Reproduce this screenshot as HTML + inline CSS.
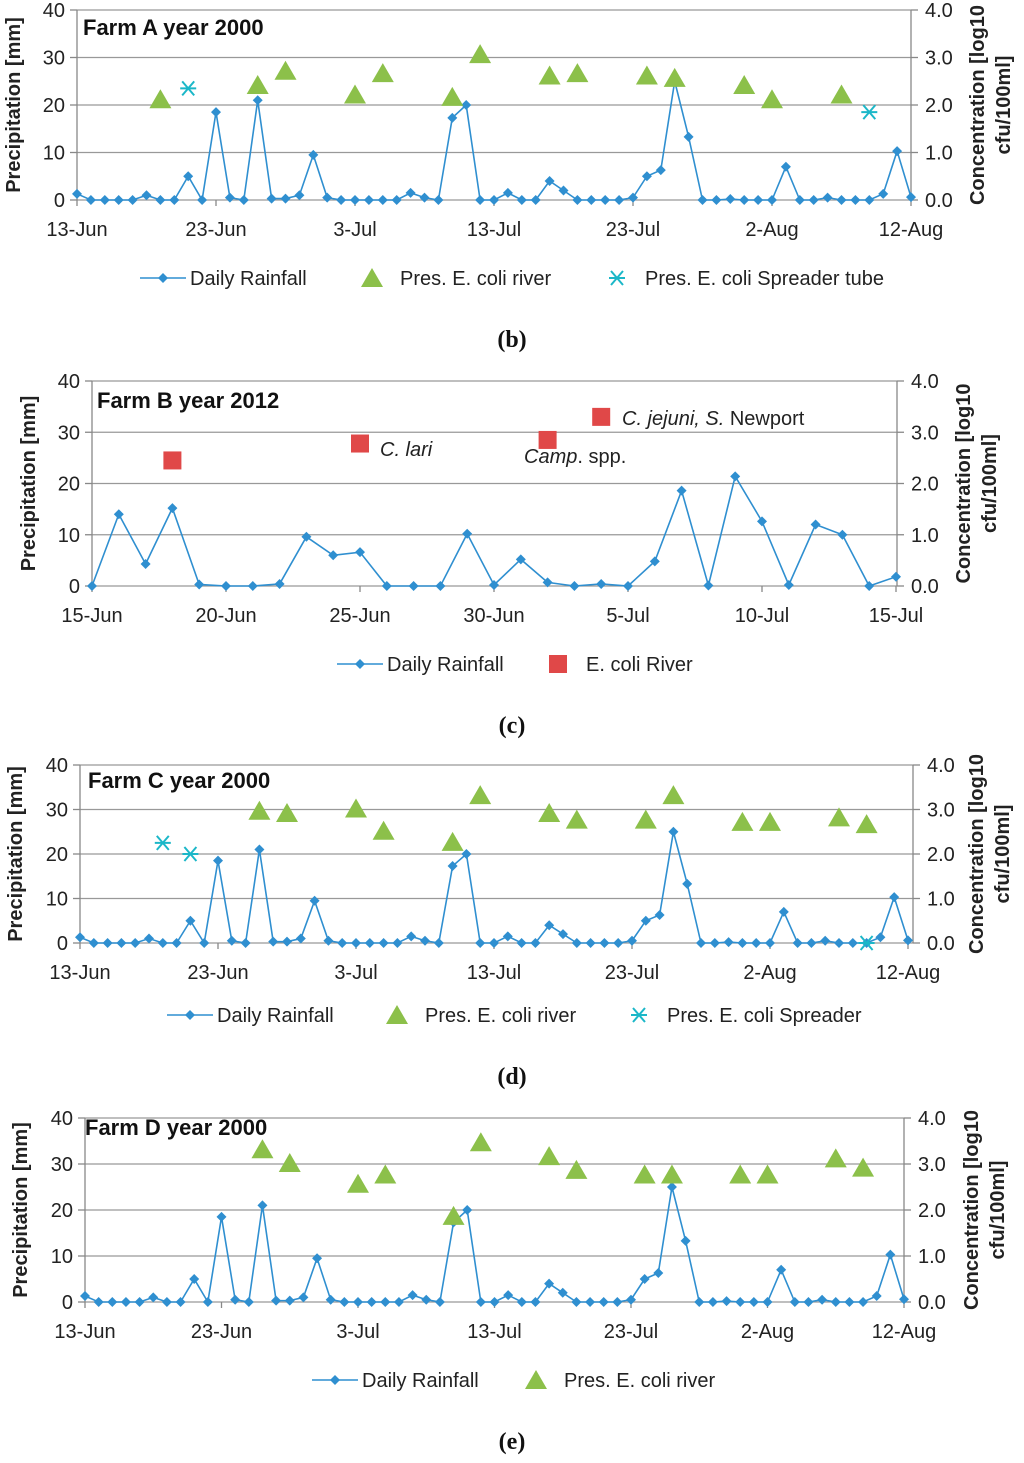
<!DOCTYPE html>
<html><head><meta charset="utf-8"><style>
body{margin:0;background:#fff;}
svg{display:block;font-family:"Liberation Sans","DejaVu Sans",sans-serif;}
</style></head><body>
<svg id="s" width="1024" height="1463" viewBox="0 0 1024 1463" xmlns="http://www.w3.org/2000/svg"></svg>
<script>
// ---- data ----
const rain2000 = [1.3,0,0,0,0,1.0,0,0,5,0,18.5,0.5,0,21,0.3,0.3,1.0,9.5,0.5,0,0,0,0,0,1.5,0.5,0,17.3,20,0,0,1.5,0,0,4,2,0,0,0,0,0.5,5,6.3,25,13.3,0,0,0.2,0,0,0,7,0,0,0.5,0,0,0,1.3,10.3,0.6];
const rain2012 = [0,14,4.3,15.2,0.3,0,0,0.4,9.6,6,6.6,0,0,0,10.2,0.2,5.2,0.7,0,0.4,0,4.8,18.6,0.1,21.4,12.6,0.2,12,10,0,1.8];
const datesA = ["13-Jun","23-Jun","3-Jul","13-Jul","23-Jul","2-Aug","12-Aug"];
const datesB = ["15-Jun","20-Jun","25-Jun","30-Jun","5-Jul","10-Jul","15-Jul"];
const leftTicks = [0,10,20,30,40];
const rightTicks = ["0.0","1.0","2.0","3.0","4.0"];
const riverA_days = [6,13,15,20,22,27,29,34,36,41,43,48,50,55];
const riverA_vals = [2.1,2.4,2.7,2.2,2.65,2.15,3.05,2.6,2.65,2.6,2.55,2.4,2.1,2.2];
const spreadA_days = [8,57];
const spreadA_vals = [2.35,1.85];
const riverB_days = [3,10,17,19];
const riverB_vals = [2.45,2.78,2.85,3.3];
const riverC_days = [13,15,20,22,27,29,34,36,41,43,48,50,55,57];
const riverC_vals = [2.95,2.9,3.0,2.5,2.25,3.3,2.9,2.75,2.75,3.3,2.7,2.7,2.8,2.65];
const spreadC_days = [6,8,57];
const spreadC_vals = [2.25,2.0,0.0];
const riverD_days = [13,15,20,22,27,29,34,36,41,43,48,50,55,57];
const riverD_vals = [3.3,3.0,2.55,2.75,1.85,3.45,3.15,2.85,2.75,2.75,2.75,2.75,3.1,2.9];

const NS="http://www.w3.org/2000/svg";
const svg=document.getElementById('s');
function mk(tag,attrs,parent,name){const e=document.createElementNS(NS,tag);for(const k in attrs)e.setAttribute(k,attrs[k]);(parent||svg).appendChild(e);


return e;}
function txt(x,y,s,attrs,parent,name){const t=mk('text',Object.assign({x:x,y:y,'font-size':19,fill:'#222'},attrs||{}),parent,name);t.textContent=s;return t;}
const LC='#2f8fd0', TC='#8cc04a', SC='#1bb7c8', RC='#e04848';
function tri(g,x,y,nm){mk('polygon',{points:`${x},${y-11} ${x-11},${y+8} ${x+11},${y+8}`,fill:TC},g,nm);}
function star(g,x,y,nm){const h=mk('g',{stroke:SC,'stroke-width':2},g,nm);
 mk('line',{x1:x-8,y1:y,x2:x+8,y2:y},h,'star-stroke');mk('line',{x1:x-6,y1:y-7,x2:x+6,y2:y+7},h,'star-stroke');mk('line',{x1:x-6,y1:y+7,x2:x+6,y2:y-7},h,'star-stroke');}
function sq(g,x,y,nm){mk('rect',{x:x-9,y:y-9,width:18,height:18,fill:RC},g,nm);}
function dia(g,x,y,nm){mk('polygon',{points:`${x},${y-5} ${x+5},${y} ${x},${y+5} ${x-5},${y}`,fill:LC},g,nm);}

function panel(c){
 const g=mk('g',{},svg,c.name);
 const X=d=>c.x0+d*c.dx, Y=v=>c.y0-(v/40)*(c.y0-c.yt), Y2=v=>Y(v*10);
 leftTicks.forEach((t,i)=>{
  mk('line',{x1:c.x0,x2:c.xr,y1:Y(t),y2:Y(t),stroke:'#999','stroke-width':1.3},g,'gridline');
  mk('line',{x1:c.x0-7,x2:c.x0,y1:Y(t),y2:Y(t),stroke:'#888','stroke-width':1.3},g,'left-tick');
  mk('line',{x1:c.xr,x2:c.xr+7,y1:Y(t),y2:Y(t),stroke:'#888','stroke-width':1.3},g,'right-tick');
  txt(c.x0-12,Y(t)+7,String(t),{'text-anchor':'end','font-size':20},g,'left-tick-label');
  txt(c.xr+14,Y(t)+7,rightTicks[i],{'font-size':20},g,'right-tick-label');
 });
 mk('line',{x1:c.x0,x2:c.x0,y1:c.yt,y2:c.y0,stroke:'#888','stroke-width':1.3},g,'left-axis');
 mk('line',{x1:c.xr,x2:c.xr,y1:c.yt,y2:c.y0,stroke:'#888','stroke-width':1.3},g,'right-axis');
 c.dates.forEach((d,i)=>{const x=X(i*c.step);
  mk('line',{x1:x,x2:x,y1:c.y0,y2:c.y0+6,stroke:'#888','stroke-width':1.3},g,'x-tick');
  txt(x,c.y0+36,d,{'text-anchor':'middle','font-size':20},g,'x-tick-label');});
 const my=(c.y0+c.yt)/2;
 txt(0,0,'Precipitation [mm]',{'text-anchor':'middle','font-weight':'bold','font-size':20,transform:`translate(${c.lx},${my}) rotate(-90)`},g,'y-axis-title');
 txt(0,0,'Concentration [log10',{'text-anchor':'middle','font-weight':'bold','font-size':20,transform:`translate(${c.rx},${my}) rotate(-90)`},g,'y2-axis-title');
 txt(0,0,'cfu/100ml]',{'text-anchor':'middle','font-weight':'bold','font-size':20,transform:`translate(${c.rx+26},${my}) rotate(-90)`},g,'y2-axis-title-line2');
 txt(c.tx,c.ty,c.title,{'font-weight':'bold','font-size':22,fill:'#111'},g,'panel-title');
 const pts=c.rain.map((v,i)=>`${X(i)},${Y(v)}`).join(' ');
 mk('polyline',{points:pts,fill:'none',stroke:LC,'stroke-width':1.6},g,'rainfall-line');
 c.rain.forEach((v,i)=>dia(g,X(i),Y(v),'rainfall-point'));
 (c.tri||[]).forEach(([ds,vs])=>ds.forEach((d,i)=>tri(g,X(d),Y2(vs[i]),'river-marker')));
 (c.star||[]).forEach(([ds,vs])=>ds.forEach((d,i)=>star(g,X(d),Y2(vs[i]),'spreader-marker')));
 (c.sq||[]).forEach(([ds,vs])=>ds.forEach((d,i)=>sq(g,X(d),Y2(vs[i]),'river-square')));
 const ly=c.ly, L=mk('g',{},g,'legend');
 c.leg.forEach(it=>{
  if(it.t==='line'){mk('line',{x1:it.x,x2:it.x+46,y1:ly,y2:ly,stroke:LC,'stroke-width':1.6},L,'legend-line');dia(L,it.x+23,ly,'legend-diamond');txt(it.x+50,ly+7,it.s,{'font-size':20},L,'legend-entry');}
  else{ if(it.t==='tri')tri(L,it.x,ly+1,'legend-triangle'); else if(it.t==='star')star(L,it.x,ly,'legend-star'); else sq(L,it.x,ly,'legend-square');
   txt(it.x+28,ly+7,it.s,{'font-size':20},L,'legend-entry');}
 });
 txt(512,c.cy,c.cap,{'text-anchor':'middle','font-family':'"Liberation Serif",serif','font-weight':'bold','font-size':24,fill:'#111'},g,'panel-caption');
 return {g,X,Y2};
}
panel({name:'panel-farm-a',x0:77,dx:13.9,xr:911,y0:200,yt:10,rain:rain2000,dates:datesA,step:10,lx:20,rx:984,tx:83,ty:35,title:'Farm A year 2000',
 tri:[[riverA_days,riverA_vals]],star:[[spreadA_days,spreadA_vals]],ly:278,cy:347,cap:'(b)',
 leg:[{t:'line',x:140,s:'Daily Rainfall'},{t:'tri',x:372,s:'Pres. E. coli river'},{t:'star',x:617,s:'Pres. E. coli Spreader tube'}]});
const pb=panel({name:'panel-farm-b',x0:92,dx:26.8,xr:897,y0:586,yt:381,rain:rain2012,dates:datesB,step:5,lx:35,rx:970,tx:97,ty:408,title:'Farm B year 2012',
 sq:[[riverB_days,riverB_vals]],ly:664,cy:733,cap:'(c)',
 leg:[{t:'line',x:337,s:'Daily Rainfall'},{t:'sq',x:558,s:'E. coli River'}]});
txt(380,456,'C. lari',{'font-style':'italic','font-size':20},pb.g,'annotation-c-lari');
const a2=txt(524,463,'',{'font-size':20},pb.g,'annotation-camp');
a2.innerHTML='<tspan font-style="italic">Camp</tspan>. spp.';
const a3=txt(622,425,'',{'font-size':20},pb.g,'annotation-jejuni');
a3.innerHTML='<tspan font-style="italic">C. jejuni, S.</tspan> Newport';
panel({name:'panel-farm-c',x0:80,dx:13.8,xr:913,y0:943,yt:765,rain:rain2000,dates:datesA,step:10,lx:22,rx:983,tx:88,ty:788,title:'Farm C year 2000',
 tri:[[riverC_days,riverC_vals]],star:[[spreadC_days,spreadC_vals]],ly:1015,cy:1084,cap:'(d)',
 leg:[{t:'line',x:167,s:'Daily Rainfall'},{t:'tri',x:397,s:'Pres. E. coli river'},{t:'star',x:639,s:'Pres. E. coli Spreader'}]});
panel({name:'panel-farm-d',x0:85,dx:13.65,xr:904,y0:1302,yt:1118,rain:rain2000,dates:datesA,step:10,lx:27,rx:978,tx:85,ty:1135,title:'Farm D year 2000',
 tri:[[riverD_days,riverD_vals]],ly:1380,cy:1449,cap:'(e)',
 leg:[{t:'line',x:312,s:'Daily Rainfall'},{t:'tri',x:536,s:'Pres. E. coli river'}]});
</script>
</body></html>
